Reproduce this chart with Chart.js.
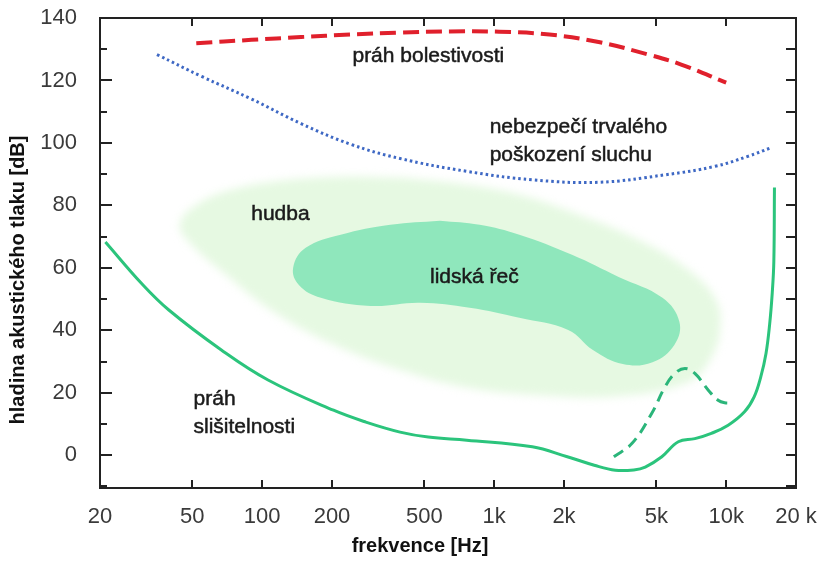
<!DOCTYPE html>
<html>
<head>
<meta charset="utf-8">
<title>Sluchové pole</title>
<script src="https://cdn.jsdelivr.net/npm/chart.js@4.4.0/dist/chart.umd.min.js"></script>
<style>
  html, body { margin: 0; padding: 0; background: #fff; }
</style>
</head>
<body>
<canvas id="myChart" width="827" height="561"></canvas>
<script>
// x axis: frequency in Hz (log), y axis: sound pressure level in dB
var freqTicks = [20, 50, 100, 200, 500, 1000, 2000, 5000, 10000, 20000];
var freqLabels = ['20', '50', '100', '200', '500', '1k', '2k', '5k', '10k', '20 k'];
var levelTicks = [-10, 0, 10, 20, 30, 40, 50, 60, 70, 80, 90, 100, 110, 120, 130, 140];

// curves as [Hz, dB]
var hearingThreshold = [
  [21.1, 68.3], [30.3, 54.9], [39.6, 46.5], [66.7, 33.7], [106, 24.1], [203, 14.4],
  [280, 10.6], [393, 7.4], [520, 5.8], [762, 4.8], [1460, 2.7], [2050, -0.4], [2700, -3.2],
  [3330, -4.8], [4000, -4.7], [4480, -3.8], [5280, -0.5], [6220, 4.3], [7330, 5.3],
  [8630, 7.0], [10200, 9.6], [12000, 13.9], [13200, 18.7], [14100, 25.1], [14850, 32.6],
  [15400, 42.0], [15800, 52.0], [16050, 62.0], [16150, 85.7]
];
var hearingThresholdAlt = [
  [3280, -0.5], [3930, 3.8], [4780, 13.4], [5450, 21.9], [6020, 26.2], [6640, 27.8],
  [7330, 26.2], [8360, 20.9], [9230, 17.6], [9850, 16.8], [10700, 16.8]
];
var painThreshold = [
  [52, 131.9], [90, 133.0], [147, 133.9], [240, 134.7], [393, 135.3], [644, 135.7],
  [1050, 135.6], [1730, 134.7], [2820, 132.3], [4620, 128.3], [6400, 125.1], [10000, 119.3]
];
var damageLevel = [
  [35.2, 128.3], [54.8, 121.3], [89.7, 114.1], [147, 106.2], [240, 99.6], [393, 95.0],
  [762, 90.9], [1460, 88.2], [2820, 87.4], [5470, 89.8], [8960, 92.5], [12400, 95.7], [15550, 98.4]
];

// closed outlines of the two areas
var speechArea = [
  [584, 75.1], [866, 73.8], [1284, 70.6], [2165, 64.2], [3440, 57.1], [5315, 50.4],
  [6285, 42.7], [5980, 35.3], [4815, 29.8], [3585, 29.2], [2665, 33.7], [2085, 40.1],
  [1284, 44.0], [784, 47.2], [480, 48.8], [293, 47.8], [179, 50.4], [144, 54.5],
  [136, 60.0], [154, 66.4], [218, 70.6], [357, 73.8], [584, 75.1]
];
var musicArea = [
  [393, 88.9], [711, 86.9], [1284, 83.4], [2320, 77.0], [4190, 69.0], [6860, 59.4],
  [9040, 49.7], [9410, 40.1], [8520, 30.5], [6860, 23.4], [3440, 18.9], [1565, 19.2],
  [784, 21.5], [393, 27.3], [197, 35.9], [109, 46.5], [70.1, 57.7], [49.7, 67.4],
  [44.1, 73.8], [52.2, 80.2], [73.6, 85.0], [120.6, 87.9], [218, 89.2], [393, 88.9]
];

// captions inside the plot, anchored at [Hz, dB] of the first baseline
var notes = [
  { text: ['práh bolestivosti'], hz: 245, db: 125.8 },
  { text: ['nebezpečí trvalého', 'poškození sluchu'], hz: 956, db: 103.3 },
  { text: ['hudba'], hz: 89.7, db: 75.4 },
  { text: ['lidská řeč'], hz: 529, db: 55.2 },
  { text: ['práh', 'slišitelnosti'], hz: 50.6, db: 16.0 }
];

var FONT = '"Liberation Sans", Arial, Helvetica, sans-serif';
var MUSIC = 5;

function pts(a) {
  return a.map(function (p) { return { x: p[0], y: p[1] }; });
}

var frame = {
  id: 'frame',
  beforeDatasetsDraw: function (chart) {
    // soft edge for the music area (drawn first)
    chart.ctx.save();
    chart.ctx.filter = 'blur(4px)';
  },
  afterDatasetDraw: function (chart, args) {
    if (args.index === MUSIC) chart.ctx.restore();
  },
  afterDraw: function (chart) {
    var ctx = chart.ctx, a = chart.chartArea;
    var xs = chart.scales.x, ys = chart.scales.y;
    ctx.save();
    ctx.strokeStyle = '#222';
    ctx.lineWidth = 2;
    ctx.strokeRect(a.left, a.top, a.right - a.left, a.bottom - a.top);

    // inward tick marks on all four sides
    ctx.beginPath();
    freqTicks.slice(1, -1).forEach(function (f) {
      var px = Math.round(xs.getPixelForValue(f));
      ctx.moveTo(px, a.bottom); ctx.lineTo(px, a.bottom - 8);
      ctx.moveTo(px, a.top); ctx.lineTo(px, a.top + 8);
    });
    levelTicks.forEach(function (v) {
      var py = Math.round(ys.getPixelForValue(v));
      ctx.moveTo(a.left, py); ctx.lineTo(a.left + (v % 20 === 0 ? 12 : 7), py);
      ctx.moveTo(a.right, py); ctx.lineTo(a.right - 10, py);
    });
    ctx.stroke();

    // captions
    ctx.fillStyle = '#1b1b1b';
    ctx.strokeStyle = '#1b1b1b';
    ctx.lineWidth = 0.5;
    ctx.font = '21px ' + FONT;
    ctx.textAlign = 'left';
    ctx.textBaseline = 'alphabetic';
    notes.forEach(function (n) {
      var x = xs.getPixelForValue(n.hz), y = ys.getPixelForValue(n.db);
      n.text.forEach(function (t, i) {
        ctx.fillText(t, x, y + i * 28);
        ctx.strokeText(t, x, y + i * 28);
      });
    });

    // axis titles
    ctx.fillStyle = '#111';
    ctx.font = 'bold 20px ' + FONT;
    ctx.textAlign = 'center';
    ctx.textBaseline = 'middle';
    ctx.fillText('frekvence [Hz]', a.left + 320, 546);
    ctx.translate(18, 280);
    ctx.rotate(-Math.PI / 2);
    ctx.fillText('hladina akustického tlaku [dB]', 0, 0);
    ctx.restore();
  }
};

var ctx = document.getElementById('myChart').getContext('2d');
var myChart = new Chart(ctx, {
  type: 'scatter',
  data: {
    datasets: [{
      data: pts(hearingThreshold),
      showLine: true,
      borderColor: '#2bc47c',
      borderWidth: 3,
      pointRadius: 0,
      tension: 0.4
    }, {
      data: pts(hearingThresholdAlt),
      showLine: true,
      borderColor: '#2bb57a',
      borderWidth: 3,
      borderDash: [11, 7],
      pointRadius: 0,
      tension: 0.4
    }, {
      data: pts(painThreshold),
      showLine: true,
      borderColor: '#e0202c',
      borderWidth: 4,
      borderDash: [16, 7],
      pointRadius: 0,
      tension: 0.4
    }, {
      data: pts(damageLevel),
      showLine: true,
      borderColor: '#3e68c4',
      borderWidth: 3,
      borderDash: [2.5, 3],
      pointRadius: 0,
      tension: 0.4
    }, {
      data: pts(speechArea),
      showLine: true,
      borderWidth: 0,
      backgroundColor: '#8fe7bc',
      fill: 'shape',
      tension: 0.4,
      pointRadius: 0
    }, {
      data: pts(musicArea),
      showLine: true,
      borderWidth: 0,
      backgroundColor: '#e6f9e2',
      fill: 'shape',
      tension: 0.4,
      pointRadius: 0
    }]
  },
  options: {
    responsive: false,
    animation: false,
    events: [],
    layout: { padding: { left: 0, top: 18, right: 31, bottom: 0 } },
    plugins: {
      legend: { display: false },
      tooltip: { enabled: false }
    },
    scales: {
      x: {
        type: 'logarithmic',
        min: 20,
        max: 20000,
        afterBuildTicks: function (s) {
          s.ticks = freqTicks.map(function (v) { return { value: v }; });
        },
        afterFit: function (s) {
          s.height = 73;
          s.paddingLeft = 0;
          s.paddingRight = 0;
        },
        grid: { display: false, drawTicks: false },
        border: { display: false },
        ticks: {
          autoSkip: false,
          maxRotation: 0,
          padding: 16,
          color: '#3a3a3a',
          font: { family: FONT, size: 22 },
          callback: function (v) {
            var i = freqTicks.indexOf(v);
            return i < 0 ? '' : freqLabels[i];
          }
        }
      },
      y: {
        type: 'linear',
        min: -10.5,
        max: 140,
        afterBuildTicks: function (s) {
          s.ticks = levelTicks.map(function (v) { return { value: v }; });
        },
        afterFit: function (s) {
          s.width = 100;
          s.paddingTop = 0;
          s.paddingBottom = 0;
        },
        grid: { display: false, drawTicks: false },
        border: { display: false },
        ticks: {
          padding: 23,
          color: '#3a3a3a',
          font: { family: FONT, size: 22 },
          callback: function (v) { return v % 20 === 0 ? String(v) : ''; }
        }
      }
    }
  },
  plugins: [frame]
});
</script>
</body>
</html>
